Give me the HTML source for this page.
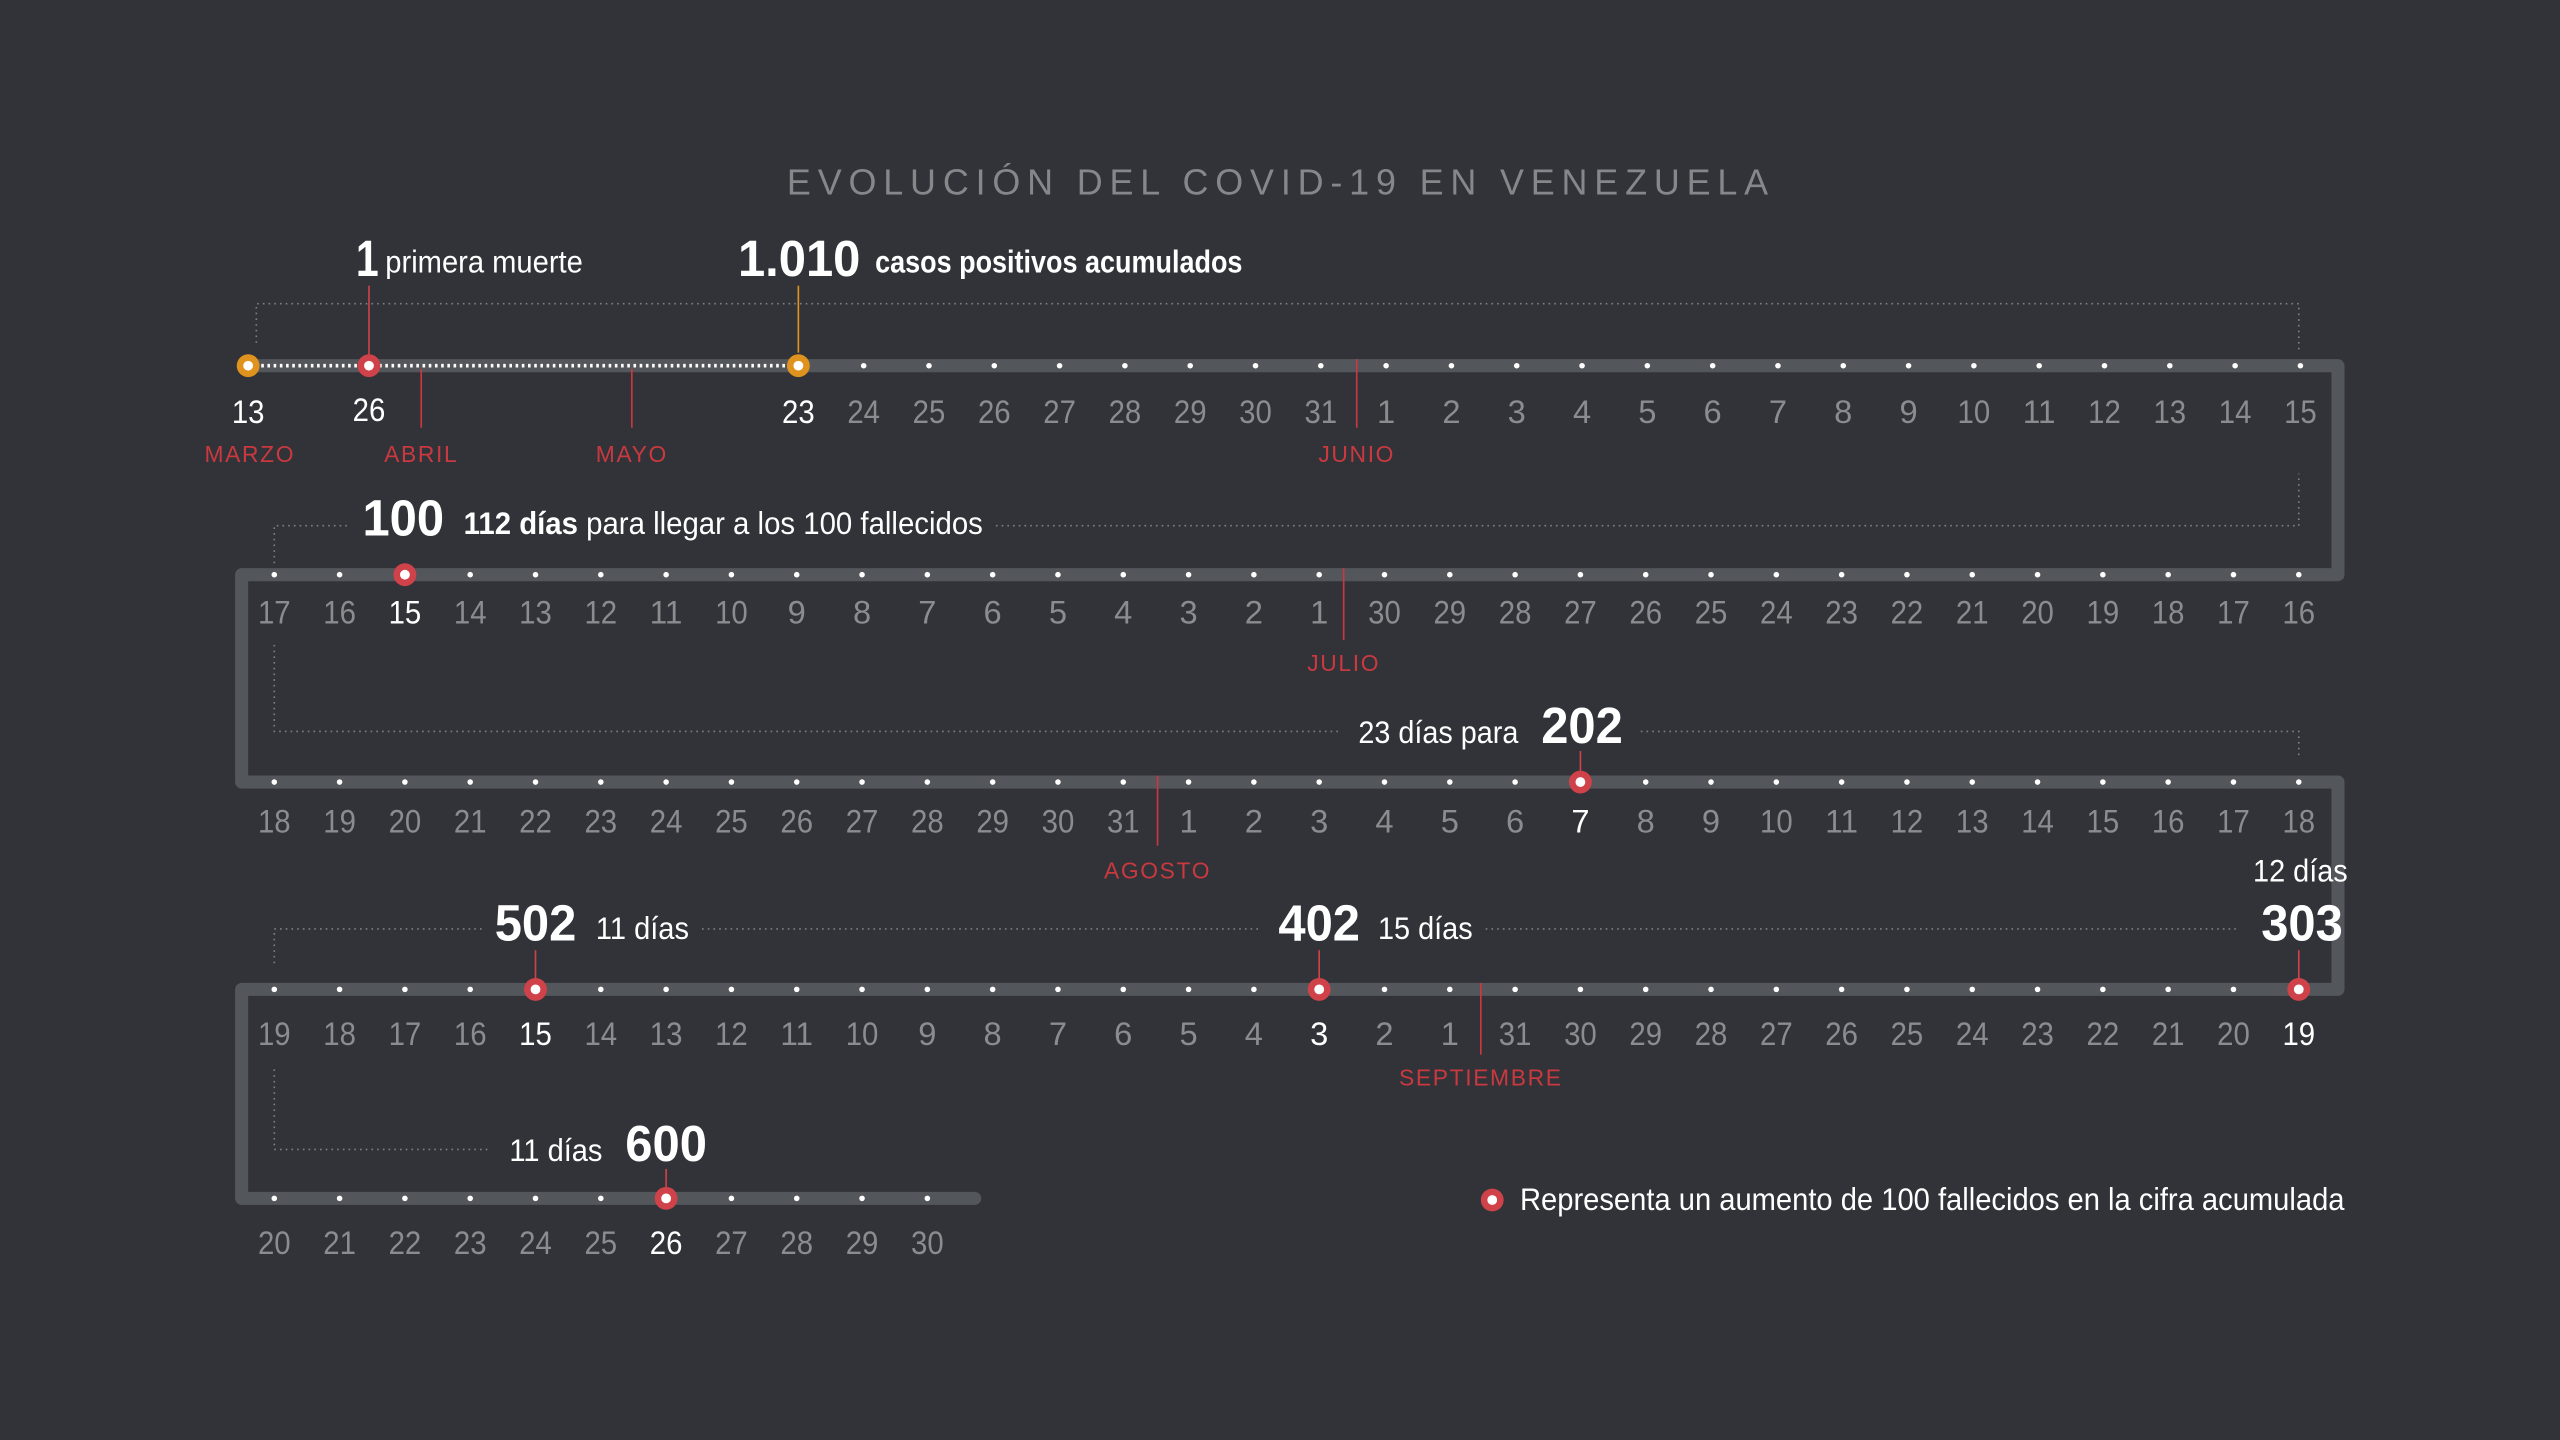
<!DOCTYPE html>
<html><head><meta charset="utf-8"><style>
html,body{margin:0;padding:0;background:#313338;}
svg{display:block;font-family:"Liberation Sans Narrow","Liberation Sans",sans-serif;}
</style></head><body>
<svg id="c" width="2560" height="1440" viewBox="0 0 1568 882" xmlns="http://www.w3.org/2000/svg">
<rect width="1568" height="882" fill="#313338"/>
<text x="482" y="119" textLength="606" lengthAdjust="spacing" fill="#85878b" font-size="22" letter-spacing="5">EVOLUCIÓN DEL COVID-19 EN VENEZUELA</text>
<path d="M152 224 H1432 V352 H148 V479 H1432 V606 H148 V734 H597" fill="none" stroke="#53565b" stroke-width="8" stroke-linejoin="round" stroke-linecap="round"/>
<line x1="160" y1="224" x2="482" y2="224" stroke="#fff" stroke-width="2.2" stroke-dasharray="1.6 2.2"/>
<g id="ann" fill="none" stroke="#7c7f84" stroke-width="1" stroke-dasharray="1 2.5">
<path d="M157 210 V186 H1408 V215"/>
<path d="M168 345 V322 H215 M610 322 H1408 V290"/>
<path d="M168 395 V448 H820 M1005 448 H1408 V465"/>
<path d="M168 590 V569 H295 M430 569 H772 M910 569 H1372"/>
<path d="M168 655 V704 H300"/>
</g>
<g id="marks"></g>
<g fill="#fff" font-weight="bold">
<line x1="226" y1="175" x2="226" y2="218" stroke="#d0424a" stroke-width="1"/>
<line x1="489" y1="175" x2="489" y2="216" stroke="#e0921f" stroke-width="1"/>
<text x="218" y="169" font-size="31" textLength="14" lengthAdjust="spacingAndGlyphs">1</text>
<text x="236" y="167" font-size="19" font-weight="normal" textLength="121" lengthAdjust="spacingAndGlyphs">primera muerte</text>
<text x="452" y="169" font-size="31" textLength="75" lengthAdjust="spacingAndGlyphs">1.010</text>
<text x="536" y="167" font-size="19" textLength="225" lengthAdjust="spacingAndGlyphs">casos positivos acumulados</text>
<text x="222" y="328" font-size="31" textLength="50" lengthAdjust="spacingAndGlyphs">100</text>
<text x="284" y="327" font-size="19" textLength="318" lengthAdjust="spacingAndGlyphs"><tspan font-weight="bold">112 días</tspan><tspan font-weight="normal"> para llegar a los 100 fallecidos</tspan></text>
<text x="832" y="455" font-size="19" font-weight="normal" textLength="98" lengthAdjust="spacingAndGlyphs">23 días para</text>
<text x="944" y="455" font-size="31" textLength="50" lengthAdjust="spacingAndGlyphs">202</text>
<line x1="968" y1="460" x2="968" y2="475" stroke="#d0424a" stroke-width="1"/>
<text x="303" y="576" font-size="31" textLength="50" lengthAdjust="spacingAndGlyphs">502</text>
<text x="365" y="575" font-size="19" font-weight="normal" textLength="57" lengthAdjust="spacingAndGlyphs">11 días</text>
<text x="783" y="576" font-size="31" textLength="50" lengthAdjust="spacingAndGlyphs">402</text>
<text x="844" y="575" font-size="19" font-weight="normal" textLength="58" lengthAdjust="spacingAndGlyphs">15 días</text>
<text x="1380" y="540" font-size="19" font-weight="normal" textLength="58" lengthAdjust="spacingAndGlyphs">12 días</text>
<text x="1385" y="576" font-size="31" textLength="50" lengthAdjust="spacingAndGlyphs">303</text>
<line x1="328" y1="582" x2="328" y2="600" stroke="#d0424a" stroke-width="1"/>
<line x1="808" y1="582" x2="808" y2="600" stroke="#d0424a" stroke-width="1"/>
<line x1="1408" y1="582" x2="1408" y2="600" stroke="#d0424a" stroke-width="1"/>
<text x="312" y="711" font-size="19" font-weight="normal" textLength="57" lengthAdjust="spacingAndGlyphs">11 días</text>
<text x="383" y="711" font-size="31" textLength="50" lengthAdjust="spacingAndGlyphs">600</text>
<line x1="408" y1="716" x2="408" y2="728" stroke="#d0424a" stroke-width="1"/>
</g>
<g>
<circle cx="914" cy="735" r="7" fill="#d0424a"/><circle cx="914" cy="735" r="3" fill="#fff"/>
<text x="931" y="741" font-size="19" fill="#fff" textLength="505" lengthAdjust="spacingAndGlyphs">Representa un aumento de 100 fallecidos en la cifra acumulada</text>
</g>
</svg>
<script>
const rowY=[224,352,479,606,734];
const row1Days=[23,24,25,26,27,28,29,30,31,1,2,3,4,5,6,7,8,9,10,11,12,13,14,15];
const row2Days=[17,16,15,14,13,12,11,10,9,8,7,6,5,4,3,2,1,30,29,28,27,26,25,24,23,22,21,20,19,18,17,16];
const row3Days=[18,19,20,21,22,23,24,25,26,27,28,29,30,31,1,2,3,4,5,6,7,8,9,10,11,12,13,14,15,16,17,18];
const row4Days=[19,18,17,16,15,14,13,12,11,10,9,8,7,6,5,4,3,2,1,31,30,29,28,27,26,25,24,23,22,21,20,19];
const row5Days=[20,21,22,23,24,25,26,27,28,29,30];
const highlights=[[1,2],[2,20],[3,4],[3,16],[3,31],[4,6]]; // [row, index]
const NS="http://www.w3.org/2000/svg";
const g=document.getElementById('marks');
const labelOffset=[35,30,31,34,34];
function x(i){return 168+i*40;}
function x1(i){return 489+i*40;}
function mk(t,a,p){const e=document.createElementNS(NS,t);for(const k in a)e.setAttribute(k,a[k]);(p||g).appendChild(e);return e;}
function marker(cx,cy,col){mk('circle',{cx:cx,cy:cy,r:7,fill:col});mk('circle',{cx:cx,cy:cy,r:3,fill:'#fff'});}
function label(cx,cy,txt,hl){const t=mk('text',{x:cx,y:cy,'text-anchor':'middle','font-size':20,fill:hl?'#fff':'#8a8c90'});t.textContent=txt;
if(String(txt).length>1){t.setAttribute('textLength',20);t.setAttribute('lengthAdjust','spacingAndGlyphs');}

}
const rows=[row1Days,row2Days,row3Days,row4Days,row5Days];
rows.forEach((days,r)=>{
 days.forEach((d,i)=>{
  const cx=r===0?x1(i):x(i);const cy=rowY[r];
  const hl=highlights.some(h=>h[0]===r&&h[1]===i);
  const c=mk('circle',{cx:cx,cy:cy,r:1.7,fill:'#fff'});
  
  
  if(hl)marker(cx,cy,'#d0424a');
  label(cx,cy+labelOffset[r],d,hl||(r===0&&i===0));
 });
});
marker(152,224,'#e0921f');marker(489,224,'#e0921f');marker(226,224,'#d0424a');
label(152,259,'13',true);label(226,258,'26',true);
function month(name,mx,ly,ty,y0){mk('line',{x1:mx,y1:y0,x2:mx,y2:ly,stroke:'#c9393f','stroke-width':1});
const t=mk('text',{x:mx,y:ty,'text-anchor':'middle','font-size':14,fill:'#c9393f','letter-spacing':1});t.textContent=name;

}
month('MARZO',153,224,283,224);
month('ABRIL',258,262,283,226);
month('MAYO',387,262,283,226);
month('JUNIO',831,262,283,220);
month('JULIO',823,392,411,348);
month('AGOSTO',709,518,538,475);
month('SEPTIEMBRE',907,646,665,602);
</script>
</body></html>
